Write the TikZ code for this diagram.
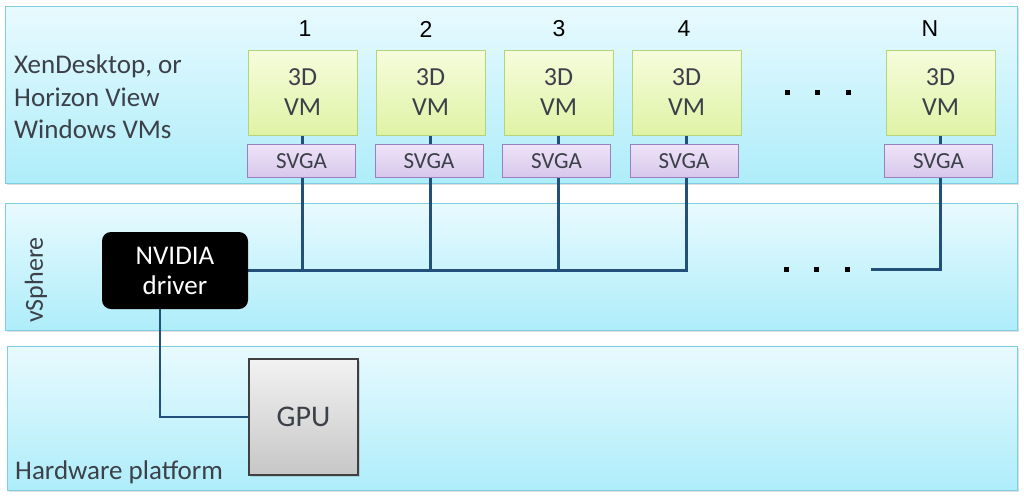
\documentclass[tikz,border=0pt]{standalone}
\usepackage{fontspec}
\setmainfont{Carlito}
\newfontfamily\arialf{Liberation Sans}
\usetikzlibrary{shadows}
\pgfdeclarelayer{bg}\pgfdeclarelayer{wires}\pgfsetlayers{bg,wires,main}
\definecolor{txt}{HTML}{3C4048}
\definecolor{wire}{HTML}{23507A}
\definecolor{laytop}{HTML}{E8FAFE}
\definecolor{laybot}{HTML}{AEEDFA}
\definecolor{layedge}{HTML}{7FCDE0}
\definecolor{vmtop}{HTML}{F6FCDC}
\definecolor{vmbot}{HTML}{DFF3A6}
\definecolor{vmedge}{HTML}{B5D47A}
\definecolor{svtop}{HTML}{EEE4F7}
\definecolor{svbot}{HTML}{D7C7EC}
\definecolor{svedge}{HTML}{9A80C0}
\tikzset{
  layerbox/.style={draw=layedge, line width=1pt, top color=laytop, bottom color=laybot,
    drop shadow={opacity=0.25, shadow xshift=1.5pt, shadow yshift=-1.5pt}, inner sep=0pt},
  laytext/.style={text=txt, font=\fontsize{27}{32.5}\selectfont, align=left, inner sep=0pt},
  vmbox/.style={draw=vmedge, line width=1pt, top color=vmtop, bottom color=vmbot,
    minimum width=109pt, minimum height=85pt, inner sep=0pt, align=center, text=txt,
    font=\fontsize{26}{30}\selectfont},
  svbox/.style={draw=svedge, line width=1pt, top color=svtop, bottom color=svbot,
    minimum width=108pt, minimum height=33pt, inner sep=0pt, text=txt,
    font=\fontsize{23}{24}\selectfont},
  num/.style={font=\arialf\fontsize{23}{26}\selectfont, text=black, inner sep=0pt},
  wireline/.style={draw=wire, line width=2.8pt},
  dotsq/.style={fill=black, minimum size=5pt, inner sep=0pt},
}
\begin{document}
\begin{tikzpicture}[x=1pt,y=-1pt]
\useasboundingbox (0,0) rectangle (1024,499);
% layers
\begin{pgfonlayer}{bg}
\node[layerbox, minimum width=1012pt, minimum height=177pt] (ltop) at (511,94.5) {};
\node[layerbox, minimum width=1012pt, minimum height=127pt] (lmid) at (511,266.5) {};
\node[layerbox, minimum width=1010pt, minimum height=144pt] (lbot) at (512,418) {};
\end{pgfonlayer}
\node[laytext, anchor=west] (ttop) at (14,97) {XenDesktop, or\\Horizon View\\Windows VMs};
\node[laytext, rotate=90, font=\fontsize{26}{30}\selectfont] (tmid) at (36,280) {vSphere};
\node[laytext, anchor=west] (tbot) at (15,472) {Hardware platform};
% VMs
\node[vmbox] (vm1) at (302.5,92.5) {3D\\VM};
\node[vmbox] (vm2) at (430.5,92.5) {3D\\VM};
\node[vmbox] (vm3) at (558.5,92.5) {3D\\VM};
\node[vmbox] (vm4) at (686.5,92.5) {3D\\VM};
\node[vmbox] (vmN) at (940.5,92.5) {3D\\VM};
\node[svbox] (s1) at (301.5,161) {SVGA};
\node[svbox] (s2) at (429,161) {SVGA};
\node[svbox] (s3) at (556.5,161) {SVGA};
\node[svbox] (s4) at (684,161) {SVGA};
\node[svbox] (sN) at (938.5,161) {SVGA};
\node[num] (n1) at (305,29) {1};
\node[num] (n2) at (426,29) {2};
\node[num] (n3) at (559,29) {3};
\node[num] (n4) at (684,29) {4};
\node[num] (nN) at (930,29) {N};
\node[dotsq] (d1) at (787,92) {};
\node[dotsq] (d2) at (817,92) {};
\node[dotsq] (d3) at (848,92) {};
% driver and GPU
\node[fill=black, rounded corners=9pt, minimum width=146pt, minimum height=77pt, text=white,
  align=center, font=\fontsize{27}{30}\selectfont, inner sep=0pt] (drv) at (175,270.5) {NVIDIA\\driver};
\node[draw=black!75, line width=1.2pt, top color=black!5, bottom color=black!22,
  minimum width=109pt, minimum height=116pt, inner sep=0pt, text=txt,
  font=\fontsize{30}{32}\selectfont,
  drop shadow={opacity=0.25, shadow xshift=1.5pt, shadow yshift=-1.5pt}] (gpu) at (303.5,417) {GPU};
\node[dotsq] (e1) at (786,269.5) {};
\node[dotsq] (e2) at (816,269.5) {};
\node[dotsq] (e3) at (847,269.5) {};
\coordinate (busend) at (871,269.5);
% wires
\begin{pgfonlayer}{wires}
\draw[wireline] (drv.east) -- (vm4.south |- drv.east) -- (vm4.south);
\draw[wireline] (vm1.south) -- (vm1.south |- drv.east);
\draw[wireline] (vm2.south) -- (vm2.south |- drv.east);
\draw[wireline] (vm3.south) -- (vm3.south |- drv.east);
\draw[wireline] (vmN.south) -- (vmN.south |- busend) -- (busend);
\draw[wireline] ([xshift=-15pt]drv.south) |- (gpu.west);
\end{pgfonlayer}
\end{tikzpicture}
\end{document}
